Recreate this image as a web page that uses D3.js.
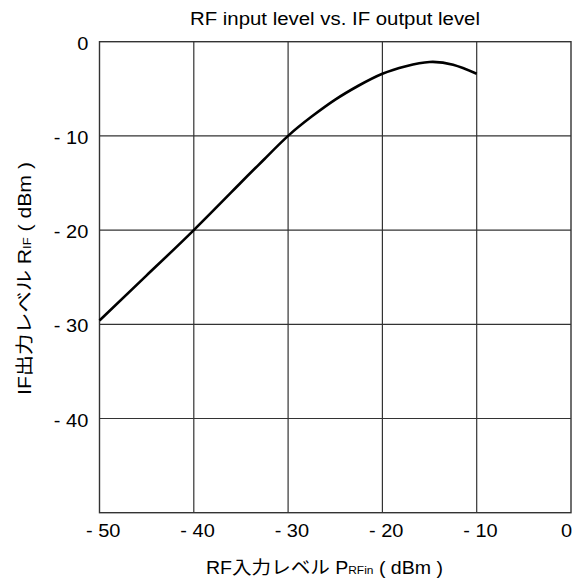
<!DOCTYPE html>
<html>
<head>
<meta charset="utf-8">
<script src="https://cdn.jsdelivr.net/npm/d3@7"></script>
<style>
  html, body { margin: 0; padding: 0; background: #fff; }
  svg text { font-family: "Liberation Sans", Arial, "Noto Sans CJK JP", sans-serif; fill: #000; }
</style>
</head>
<body>
<svg id="chart" width="577" height="583"></svg>
<script>
// Data
const rfInput = [-50, -45, -40, -35, -32.5, -30, -27.5, -25, -22.5, -20, -17.5, -15, -12.5, -10];
const ifOutput = [-29.6, -24.8, -20.0, -14.95, -12.45, -10.0, -7.95, -6.15, -4.65, -3.4, -2.6, -2.15, -2.45, -3.4];
const xTicks = [-50, -40, -30, -20, -10, 0];
const yTicks = [0, -10, -20, -30, -40];
const yGrid = [-10, -20, -30, -40];
const xGrid = [-40, -30, -20, -10];
const title = "RF input level vs. IF output level";

const svg = d3.select("#chart");
const pLeft = 99.5, pRight = 571, pTop = 41.7, pBottom = 512.7;
const x = d3.scaleLinear().domain([-50, 0]).range([pLeft, pRight]);
const y = d3.scaleLinear().domain([0, -50]).range([pTop, pBottom]);

const fmt = d => d === 0 ? "0" : "- " + Math.abs(d);
const FS = 18.5, SX = 1.08;

// Grid
const g = svg.append("g");
g.selectAll(".vg").data(xGrid).join("line")
  .attr("x1", d => x(d)).attr("x2", d => x(d))
  .attr("y1", pTop).attr("y2", pBottom)
  .attr("stroke", "#333").attr("stroke-width", 1.2);
g.selectAll(".hg").data(yGrid).join("line")
  .attr("x1", pLeft).attr("x2", pRight)
  .attr("y1", d => y(d)).attr("y2", d => y(d))
  .attr("stroke", "#333").attr("stroke-width", 1.2);
g.append("rect")
  .attr("x", pLeft).attr("y", pTop)
  .attr("width", pRight - pLeft).attr("height", pBottom - pTop)
  .attr("fill", "none").attr("stroke", "#333").attr("stroke-width", 1.4);

// Axes labels (via d3 axes, no domain/tick lines)
const xAxis = svg.append("g").attr("transform", `translate(0,${pBottom})`)
  .call(d3.axisBottom(x).tickValues(xTicks).tickFormat(fmt).tickSize(0).tickPadding(11));
xAxis.select(".domain").remove();
xAxis.attr("font-family", null).attr("font-size", null);
xAxis.selectAll("text").attr("font-size", FS)
  .attr("dx", d => d === 0 ? -4.5 : 3)
  .attr("transform", `scale(${SX},1)`);

const yAxis = svg.append("g").attr("transform", `translate(${pLeft},0)`)
  .call(d3.axisLeft(y).tickValues(yTicks).tickFormat(fmt).tickSize(0).tickPadding(10.4));
yAxis.select(".domain").remove();
yAxis.attr("font-family", null).attr("font-size", null);
yAxis.selectAll("text").attr("font-size", FS).attr("dy", "0.41em")
  .attr("transform", `scale(${SX},1)`);
svg.selectAll(".tick text").attr("fill", "#000");

// Curve
const pts = rfInput.map((v, i) => [v, ifOutput[i]]);
svg.append("path")
  .datum(pts)
  .attr("fill", "none")
  .attr("stroke", "#000")
  .attr("stroke-width", 2.6)
  .attr("d", d3.line().x(d => x(d[0])).y(d => y(d[1])).curve(d3.curveNatural));

// Title
svg.append("text")
  .attr("x", 335).attr("y", 24.5)
  .attr("text-anchor", "middle")
  .attr("font-size", 18)
  .attr("textLength", 290).attr("lengthAdjust", "spacingAndGlyphs")
  .text(title);

// X label
const xl = svg.append("text")
  .attr("x", 324.5).attr("y", 574)
  .attr("text-anchor", "middle")
  .attr("font-size", 18)
  .attr("textLength", 237).attr("lengthAdjust", "spacingAndGlyphs");
xl.append("tspan").text("RF入力レベル P");
xl.append("tspan").attr("font-size", 11).text("RFin");
xl.append("tspan").text(" ( dBm )");

// Y label
const yl = svg.append("text")
  .attr("transform", `translate(30.5,278.5) rotate(-90)`)
  .attr("text-anchor", "middle")
  .attr("font-size", 18)
  .attr("textLength", 233).attr("lengthAdjust", "spacingAndGlyphs");
yl.append("tspan").text("IF出力レベル R");
yl.append("tspan").attr("font-size", 11).text("IF");
yl.append("tspan").text(" ( dBm )");
</script>
</body>
</html>
